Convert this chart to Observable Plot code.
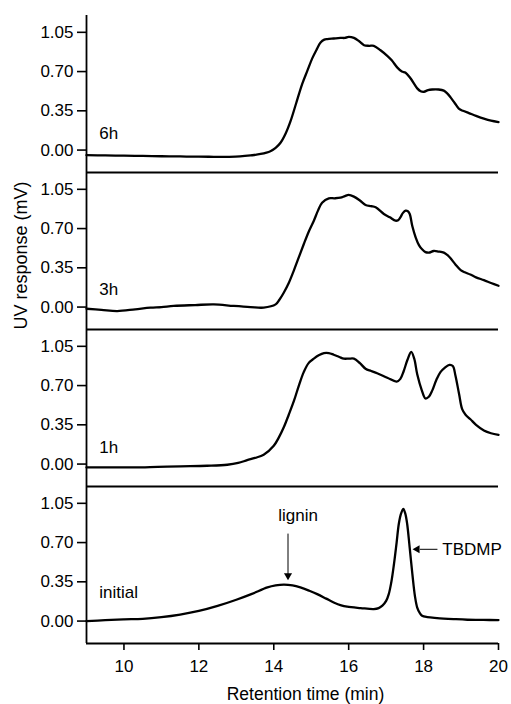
<!DOCTYPE html>
<html>
<head>
<meta charset="utf-8">
<script src="https://cdn.jsdelivr.net/npm/d3@7"></script>
<script src="https://cdn.jsdelivr.net/npm/@observablehq/plot@0.6"></script>
<style>
  html, body { margin: 0; padding: 0; background: #fff; }
</style>
</head>
<body>
<div id="chart"></div>
<script>
// Panels (top to bottom)
const panels = ["6h", "3h", "1h", "initial"];

// Axis ticks
const xTicks = [10, 12, 14, 16, 18, 20];
const yTicks = [0, 0.35, 0.70, 1.05];

// 6h series
const t6h = [9.0, 9.5, 10.0, 10.5, 11.0, 11.5, 12.0, 12.4, 12.8, 13.1, 13.38, 13.65, 13.91, 14.05, 14.18, 14.32, 14.45, 14.6, 14.76, 14.9, 15.03, 15.15, 15.25, 15.35, 15.43, 15.6, 15.78, 15.9, 16.0, 16.14, 16.28, 16.41, 16.55, 16.67, 16.85, 17.03, 17.15, 17.3, 17.42, 17.52, 17.65, 17.83, 17.92, 18.01, 18.12, 18.23, 18.4, 18.54, 18.63, 18.72, 18.83, 18.94, 19.05, 19.21, 19.4, 19.61, 19.8, 20.0];
const v6h = [-0.045, -0.048, -0.05, -0.052, -0.055, -0.057, -0.059, -0.06, -0.06, -0.057, -0.048, -0.035, -0.01, 0.02, 0.065, 0.15, 0.26, 0.42, 0.59, 0.71, 0.82, 0.9, 0.96, 0.985, 0.99, 0.995, 1.0, 1.0, 1.01, 1.0, 0.97, 0.935, 0.93, 0.93, 0.89, 0.84, 0.8, 0.735, 0.7, 0.69, 0.64, 0.55, 0.525, 0.52, 0.535, 0.54, 0.54, 0.53, 0.505, 0.47, 0.42, 0.37, 0.35, 0.33, 0.305, 0.28, 0.262, 0.25];

// 3h series
const t3h = [9.0, 9.4, 9.82, 10.3, 10.71, 11.0, 11.33, 11.9, 12.4, 12.93, 13.38, 13.73, 14.05, 14.15, 14.27, 14.4, 14.54, 14.67, 14.8, 14.93, 15.07, 15.18, 15.29, 15.47, 15.62, 15.78, 15.9, 16.0, 16.14, 16.3, 16.45, 16.6, 16.72, 16.94, 17.1, 17.25, 17.32, 17.38, 17.45, 17.52, 17.58, 17.63, 17.7, 17.79, 17.88, 17.96, 18.05, 18.14, 18.27, 18.4, 18.54, 18.63, 18.72, 18.85, 18.99, 19.1, 19.25, 19.4, 19.61, 19.8, 20.0];
const v3h = [-0.015, -0.025, -0.036, -0.02, -0.005, 0.0, 0.01, 0.018, 0.024, 0.01, 0.0, -0.005, 0.024, 0.065, 0.13, 0.215, 0.33, 0.445, 0.56, 0.67, 0.77, 0.86, 0.93, 0.97, 0.97, 0.975, 0.99, 1.0, 0.985, 0.95, 0.91, 0.9, 0.89, 0.83, 0.8, 0.77, 0.775, 0.8, 0.84, 0.86, 0.855, 0.83, 0.72, 0.62, 0.55, 0.515, 0.49, 0.485, 0.5, 0.495, 0.485, 0.465, 0.435, 0.38, 0.33, 0.31, 0.29, 0.265, 0.24, 0.215, 0.19];

// 1h series
const t1h = [9.0, 9.6, 10.26, 10.9, 11.51, 12.22, 12.76, 13.05, 13.29, 13.5, 13.73, 14.0, 14.14, 14.27, 14.4, 14.54, 14.67, 14.8, 14.93, 15.07, 15.2, 15.34, 15.47, 15.6, 15.75, 15.87, 16.0, 16.14, 16.3, 16.45, 16.6, 16.76, 17.03, 17.28, 17.38, 17.47, 17.57, 17.67, 17.75, 17.83, 17.95, 18.05, 18.14, 18.23, 18.34, 18.45, 18.57, 18.69, 18.78, 18.85, 18.95, 19.03, 19.12, 19.25, 19.4, 19.61, 19.8, 20.0];
const v1h = [-0.03, -0.03, -0.03, -0.025, -0.02, -0.015, -0.006, 0.01, 0.035, 0.055, 0.083, 0.163, 0.24, 0.33, 0.44, 0.565, 0.7, 0.82, 0.9, 0.94, 0.97, 0.99, 0.99, 0.975, 0.955, 0.94, 0.94, 0.94, 0.9, 0.85, 0.83, 0.81, 0.77, 0.735, 0.76, 0.83, 0.93, 1.0, 0.94, 0.8, 0.66, 0.585, 0.6, 0.655, 0.75, 0.82, 0.86, 0.885, 0.875, 0.79, 0.62, 0.49, 0.44, 0.40, 0.35, 0.30, 0.275, 0.26];

// initial series
const tInit = [9.0, 9.5, 10.0, 10.5, 11.0, 11.5, 12.0, 12.5, 13.0, 13.4, 13.83, 14.05, 14.27, 14.5, 14.71, 14.95, 15.16, 15.4, 15.6, 15.8, 15.96, 16.32, 16.67, 16.8, 16.9, 17.0, 17.07, 17.14, 17.21, 17.28, 17.34, 17.4, 17.46, 17.51, 17.56, 17.63, 17.7, 17.77, 17.83, 17.9, 17.96, 18.1, 18.36, 18.8, 19.17, 19.6, 20.0];
const vInit = [0.0, 0.008, 0.015, 0.02, 0.035, 0.058, 0.09, 0.135, 0.19, 0.24, 0.30, 0.318, 0.325, 0.318, 0.30, 0.27, 0.24, 0.2, 0.166, 0.14, 0.128, 0.116, 0.107, 0.115, 0.137, 0.18, 0.24, 0.35, 0.51, 0.7, 0.87, 0.96, 1.0, 0.96, 0.87, 0.65, 0.42, 0.22, 0.12, 0.07, 0.047, 0.035, 0.027, 0.018, 0.012, 0.01, 0.009];

const seriesByPanel = {"6h": [t6h, v6h], "3h": [t3h, v3h], "1h": [t1h, v1h], "initial": [tInit, vInit]};

// Panel labels
const panelLabels = [
  {panel: "6h", t: 9.34, v: 0.15, text: "6h"},
  {panel: "3h", t: 9.34, v: 0.16, text: "3h"},
  {panel: "1h", t: 9.34, v: 0.15, text: "1h"},
  {panel: "initial", t: 9.34, v: 0.255, text: "initial"}
];

// Annotations (initial panel)
const ligninLabel = [{panel: "initial", t: 14.65, v: 0.94, text: "lignin"}];
const tbdmpLabel = [{panel: "initial", t: 18.5, v: 0.64, text: "TBDMP"}];
const annotArrows = [
  {panel: "initial", t1: 14.38, v1: 0.78, t2: 14.38, v2: 0.42, headT: 14.38, headV: 0.405, rot: 180},
  {panel: "initial", t1: 18.37, v1: 0.64, t2: 17.9, v2: 0.64, headT: 17.83, headV: 0.64, rot: -90}
];

const rows = [];
for (const p of panels) {
  const [ts, vs] = seriesByPanel[p];
  ts.forEach((t, i) => rows.push({panel: p, t, v: vs[i]}));
}
const panelRows = panels.map(p => ({panel: p}));

const chart = Plot.plot({
  width: 511,
  height: 704,
  marginLeft: 86,
  marginRight: 13,
  marginTop: 14,
  marginBottom: 61,
  style: {fontFamily: "'Liberation Sans', Arial, Helvetica, sans-serif", fontSize: "17px", color: "#000", background: "#fff"},
  x: {domain: [9, 20]},
  y: {domain: [-0.2, 1.2]},
  fy: {domain: panels, padding: 0, axis: null},
  marks: [
    Plot.ruleY(panelRows, {y: -0.2, fy: "panel", strokeWidth: 1.8}),
    Plot.ruleX(panelRows, {x: 9, fy: "panel", strokeWidth: 1.8}),
    Plot.axisY({ticks: yTicks, tickFormat: d3.format(".2f"), tickSize: 9, tickPadding: 4, label: null, strokeWidth: 1.6, fontSize: 17}),
    Plot.axisX({ticks: xTicks, tickSize: 7, tickPadding: 9, label: null, strokeWidth: 1.6, fontSize: 17}),
    Plot.line(rows, {x: "t", y: "v", fy: "panel", strokeWidth: 2.3, curve: "catmull-rom"}),
    Plot.text(panelLabels, {x: "t", y: "v", fy: "panel", text: "text", textAnchor: "start", fontSize: 17}),
    Plot.text(ligninLabel, {x: "t", y: "v", fy: "panel", text: "text", textAnchor: "middle", fontSize: 17}),
    Plot.text(tbdmpLabel, {x: "t", y: "v", fy: "panel", text: "text", textAnchor: "start", fontSize: 17}),
    Plot.link(annotArrows, {x1: "t1", y1: "v1", x2: "t2", y2: "v2", fy: "panel", strokeWidth: 1}),
    Plot.dot(annotArrows, {x: "headT", y: "headV", fy: "panel", symbol: "triangle", r: 3, fill: "#000", stroke: null, rotate: "rot"}),
    Plot.text([{panel: "3h", text: "UV response (mV)"}], {fy: "panel", text: "text", frameAnchor: "bottom-left", rotate: -90, dx: -65, dy: -74, fontSize: 18, textAnchor: "middle", lineAnchor: "middle"}),
    Plot.text([{panel: "initial", text: "Retention time (min)"}], {fy: "panel", text: "text", frameAnchor: "bottom", dx: 13, dy: 51, fontSize: 17.5, textAnchor: "middle", lineAnchor: "middle"})
  ]
});
document.getElementById("chart").appendChild(chart);
</script>
</body>
</html>
